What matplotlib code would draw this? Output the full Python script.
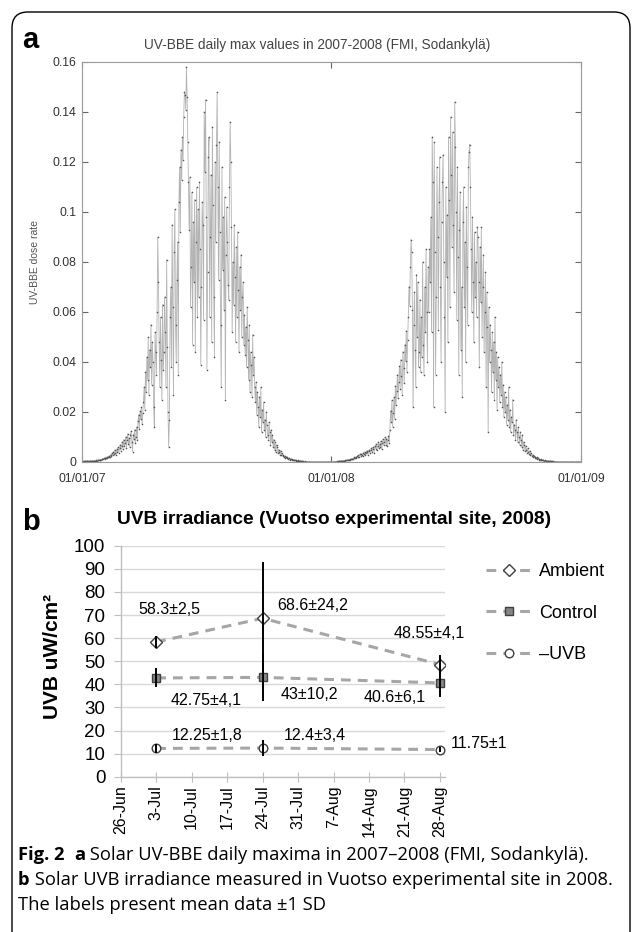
import numpy as np
import pandas as pd
import matplotlib
matplotlib.use("Agg")
import matplotlib.pyplot as plt
import matplotlib.dates as mdates
from matplotlib.patches import FancyBboxPatch

# ---- panel a: UV-BBE daily max (units of 1e-3) ----
uv_2007 = [
    # Jan
    0.3, 0.3, 0.2, 0.3, 0.3, 0.3, 0.4, 0.3, 0.3, 0.4, 0.4, 0.3, 0.4, 0.5, 0.4, 0.5,
    0.5, 0.4, 0.6, 0.5, 0.6, 0.7, 0.6, 0.8, 0.7, 0.9, 0.8, 1.0, 0.9, 1.1, 1.2,
    # Feb
    1.3, 1.5, 1.2, 1.8, 1.6, 2.0, 1.7, 2.2, 1.9, 2.5, 2.1, 3.0, 2.4, 3.5, 2.8, 4.2,
    3.1, 4.8, 3.6, 2.9, 5.2, 4.0, 6.1, 3.8, 5.5, 7.0, 4.6, 6.4,
    # Mar
    8.2, 5.1, 9.0, 6.3, 7.5, 10.1, 5.8, 8.8, 11.3, 7.2, 9.6, 6.0, 10.8, 12.4, 8.1, 4.2,
    11.0, 9.3, 13.0, 7.6, 10.2, 14.1, 8.7, 16.5, 18.9, 13.2, 20.4, 17.1, 22.0, 15.3, 19.8,
    # Apr
    24, 30, 21, 36, 28, 42, 33, 50, 27, 45, 38, 55, 31, 48, 40, 22,
    14, 52, 44, 35, 60, 90, 72, 48, 30, 58, 41, 25, 63, 37,
    # May
    44, 66, 52, 30, 81, 46, 20, 6, 17, 58, 70, 38, 95, 62, 27, 84,
    101, 55, 40, 73, 88, 35, 104, 118, 92, 125, 113, 130, 121, 138, 148,
    # Jun
    147, 141, 158, 146, 128, 112, 93, 114, 62, 78, 108, 47, 96, 72, 105, 44,
    88, 110, 58, 101, 66, 112, 85, 39, 70, 104, 95, 57, 140, 116,
    # Jul
    145, 98, 37, 76, 122, 130, 58, 90, 115, 48, 134, 103, 66, 42, 120, 88,
    127, 148, 110, 73, 128, 92, 55, 30, 118, 77, 98, 61, 106, 25, 83,
    # Aug
    102, 88, 71, 65, 110, 136, 120, 94, 52, 80, 63, 95, 74, 48, 86, 58,
    92, 69, 44, 78, 61, 83, 50, 66, 72, 47, 59, 43, 54, 38, 62,
    # Sep
    49, 33, 55, 28, 44, 39, 26, 51, 35, 42, 30, 24, 32, 19, 28, 22,
    14, 26, 18, 30, 12, 21, 16, 24, 13, 17, 10, 20, 15, 11,
    # Oct
    9, 16, 12, 7, 13, 8, 11, 6, 9, 5, 8, 4, 7, 6, 3.5, 5,
    4.2, 3, 4.5, 2.8, 3.6, 2.4, 2.9, 2.0, 2.5, 1.8, 2.2, 1.5, 1.9, 1.3, 1.6,
    # Nov
    1.2, 1.0, 1.3, 0.9, 1.1, 0.8, 1.0, 0.7, 0.9, 0.6, 0.8, 0.5, 0.7, 0.5, 0.6, 0.4,
    0.5, 0.3, 0.4, 0.3, 0.3, 0.2, 0.3, 0.2, 0.2, 0.2, 0.1, 0.2, 0.1, 0.1,
    # Dec
    0.1, 0.1, 0.05, 0.1, 0.05, 0.05, 0.1, 0.05, 0.05, 0.05, 0.05, 0.05, 0.05, 0.05, 0.05, 0.05,
    0.05, 0.05, 0.05, 0.05, 0.05, 0.05, 0.05, 0.05, 0.05, 0.05, 0.05, 0.05, 0.1, 0.05, 0.1,
]

uv_2008 = [
    # Jan
    0.1, 0.1, 0.1, 0.2, 0.1, 0.2, 0.2, 0.2, 0.3, 0.2, 0.3, 0.3, 0.4, 0.3, 0.4, 0.5,
    0.4, 0.5, 0.6, 0.5, 0.7, 0.6, 0.8, 0.7, 0.9, 0.8, 1.0, 1.1, 0.9, 1.2, 1.3,
    # Feb
    1.4, 1.2, 1.6, 1.9, 1.5, 2.1, 1.8, 2.4, 2.0, 2.7, 2.2, 3.1, 2.5, 3.4, 2.9, 2.3,
    3.8, 3.2, 4.1, 2.8, 3.5, 4.6, 3.9, 3.0, 4.4, 5.0, 3.7, 4.8, 5.5,
    # Mar
    4.2, 6.0, 5.1, 3.8, 6.6, 5.4, 7.2, 4.9, 6.3, 8.0, 5.6, 7.4, 6.1, 8.5, 5.2, 7.8,
    9.1, 6.7, 8.2, 10.0, 7.0, 9.4, 6.5, 8.8, 10.5, 7.5, 12.8, 20.5, 16.0, 24.8, 14.2,
    # Apr
    19.5, 26.0, 17.3, 30.5, 22.8, 28.4, 35.0, 25.6, 32.1, 38.4, 29.2, 41.0, 34.5, 27.0, 44.2, 37.8,
    31.5, 47.0, 40.3, 52.6, 36.0, 48.8, 58.0, 70.2, 62.5, 78.0, 89.0, 84.0, 61.0, 22.0,
    # May
    55, 68, 45, 30, 75, 50, 72, 38, 44, 65, 36, 58, 42, 80, 47, 35,
    70, 52, 85, 60, 40, 78, 60, 85, 72, 98, 52, 130, 112, 22, 128,
    # Jun
    84, 35, 66, 118, 90, 53, 104, 122, 70, 40, 96, 112, 123, 80, 58, 20,
    110, 74, 99, 48, 130, 105, 62, 138, 115, 86, 132, 95, 68, 144,
    # Jul
    126, 100, 57, 118, 82, 35, 93, 108, 45, 70, 26, 96, 110, 62, 88, 40,
    102, 78, 55, 118, 124, 127, 110, 85, 60, 98, 72, 48, 92, 66, 80,
    # Aug
    58, 94, 90, 72, 38, 86, 64, 94, 50, 70, 83, 44, 60, 76, 30, 68,
    54, 12, 62, 40, 55, 45, 28, 52, 36, 48, 25, 58, 33, 44, 21,
    # Sep
    42, 30, 38, 24, 35, 27, 40, 22, 31, 18, 28, 20, 26, 15, 23, 17,
    30, 14, 21, 12, 18, 16, 25, 11, 15, 13, 9, 17, 12, 8,
    # Oct
    14, 10, 7, 12, 9, 6, 11, 5, 8, 7, 4.5, 6.5, 5, 3.8, 5.5, 4,
    3.2, 4.6, 2.8, 3.5, 2.5, 3, 2, 2.4, 1.8, 2.1, 1.5, 1.9, 1.3, 1.6, 1.1,
    # Nov
    1.0, 0.9, 1.1, 0.8, 0.9, 0.7, 0.8, 0.6, 0.7, 0.5, 0.6, 0.5, 0.4, 0.5, 0.4, 0.3,
    0.4, 0.3, 0.3, 0.2, 0.3, 0.2, 0.2, 0.2, 0.1, 0.2, 0.1, 0.1, 0.1, 0.1,
    # Dec
    0.1, 0.05, 0.05, 0.1, 0.05, 0.05, 0.05, 0.05, 0.1, 0.05, 0.05, 0.05, 0.05, 0.05, 0.05, 0.05,
    0.05, 0.05, 0.05, 0.05, 0.1, 0.05, 0.05, 0.05, 0.05, 0.05, 0.05, 0.05, 0.05, 0.05, 0.05,
]

yticks_a = [0, 0.02, 0.04, 0.06, 0.08, 0.1, 0.12, 0.14, 0.16]
yticklabels_a = ["0", "0.02", "0.04", "0.06", "0.08", "0.1", "0.12", "0.14", "0.16"]
xticks_a = ["2007-01-01", "2008-01-01", "2009-01-01"]

# ---- panel b: UVB irradiance, Vuotso 2008 ----
dates_b = ["2008-07-03", "2008-07-24", "2008-08-28"]
ambient = [58.3, 68.6, 48.55]
ambient_sd = [2.5, 24.2, 4.1]
control = [42.75, 43, 40.6]
control_sd = [4.1, 10.2, 6.1]
minus_uvb = [12.25, 12.4, 11.75]
minus_uvb_sd = [1.8, 3.4, 1.0]

# label placement: (days from point, y value)
ambient_lab = [(-3.6, 72.2), (2.8, 74.3), (-9.2, 62.0)]
control_lab = [(2.8, 32.9), (3.5, 35.4), (-15.0, 34.2)]
minus_lab = [(3.1, 17.8), (4.1, 17.8), (2.2, 14.4)]

W, H = 635, 932
fig = plt.figure(figsize=(W / 100, H / 100), dpi=100)
plt.rcParams['font.family'] = ['Liberation Sans', 'DejaVu Sans']


def box(x0, y0, x1, y1):
    # pixel box, origin top-left -> figure fraction
    return [x0 / W, 1 - y1 / H, (x1 - x0) / W, (y1 - y0) / H]


# outer frame
frame = FancyBboxPatch((0.12, -0.5), 6.18, 9.70,
                       boxstyle="round,pad=0,rounding_size=0.16",
                       transform=fig.dpi_scale_trans, fill=False,
                       ec="black", lw=1.0)
fig.patches.append(frame)

# ---------------- panel a ----------------
t = pd.date_range("2007-01-01", periods=len(uv_2007), freq="D").append(
    pd.date_range("2008-01-01", periods=len(uv_2008), freq="D"))
v = np.array(uv_2007 + uv_2008) / 1000.0

ax1 = fig.add_axes(box(82, 62, 581, 462))
ax1.plot(t, v, color="#b3b3b3", lw=0.6, marker=".", ms=2.3,
         mfc="#555555", mec="#555555", mew=0)
ax1.set_xlim(pd.Timestamp("2007-01-01"), pd.Timestamp("2009-01-01"))
ax1.set_ylim(0, 0.16)
ax1.set_yticks(yticks_a)
ax1.set_yticklabels(yticklabels_a)
ax1.set_xticks(pd.to_datetime(xticks_a))
ax1.xaxis.set_major_formatter(mdates.DateFormatter("%m/%d/%y"))
ax1.tick_params(direction="in", top=True, right=True, length=4,
                color="#666666", labelsize=8.8, labelcolor="#333333")
ax1.tick_params(axis="x", pad=8)
ax1.tick_params(axis="y", pad=4)
for s in ax1.spines.values():
    s.set_color("#9a9a9a")
    s.set_linewidth(0.8)
ax1.set_ylabel("UV-BBE dose rate", fontsize=7.5, color="#555555")
ax1.yaxis.set_label_coords((40 - 82) / 499, 0.5)
fig.text(317 / W, 1 - 45 / H, "UV-BBE daily max values in 2007-2008 (FMI, Sodankylä)",
         fontsize=9.8, color="#444444", ha="center", va="center")
fig.text(22 / W, 1 - 48 / H, "a", fontsize=21, fontweight="bold", va="baseline")

# ---------------- panel b ----------------
db = pd.to_datetime(dates_b)
ax2 = fig.add_axes(box(120.7, 545.7, 445, 776.7))
series = [
    ("Ambient", ambient, ambient_sd, "D", "white", 5.8, ambient_lab),
    ("Control", control, control_sd, "s", "#858585", 6.0, control_lab),
    ("\u2013UVB", minus_uvb, minus_uvb_sd, "o", "white", 6.2, minus_lab),
]
for name, m, sd, mk, fc, ms, labpos in series:
    ax2.plot(db, m, ls=(0, (3.2, 2.3)), color="#a6a6a6", lw=2.2, marker=mk,
             ms=ms, mfc=fc, mec="#404040", mew=1.0, label=name, zorder=3)
    ax2.errorbar(db, m, yerr=sd, fmt="none", ecolor="black", elinewidth=1.4,
                 capsize=0, zorder=4)
    for d, mv, s, (dx, ly) in zip(db, m, sd, labpos):
        lab = f"{mv:g}\u00b1" + f"{s:g}".replace(".", ",")
        ax2.text(d + pd.Timedelta(days=dx), ly, lab, ha="left", va="center",
                 fontsize=11.5, clip_on=False)

ax2.set_ylim(0, 100)
ax2.set_yticks(np.arange(0, 101, 10))
ax2.set_xlim(pd.Timestamp("2008-06-26"), pd.Timestamp("2008-08-29"))
ax2.set_xticks(pd.date_range("2008-06-26", "2008-08-28", freq="7D"))
ax2.xaxis.set_major_formatter(mdates.DateFormatter("%-d-%b"))
ax2.yaxis.grid(True, color="#d9d9d9", lw=1.0)
ax2.set_axisbelow(True)
for side in ("top", "right"):
    ax2.spines[side].set_visible(False)
for side in ("left", "bottom"):
    ax2.spines[side].set_color("#bfbfbf")
    ax2.spines[side].set_linewidth(1.0)
ax2.tick_params(axis="y", direction="out", length=5, color="#bfbfbf",
                labelsize=13.5, pad=6)
ax2.tick_params(axis="x", direction="inout", length=7, color="#bfbfbf",
                labelsize=11.5, labelrotation=90, pad=3)
fig.text(53 / W, 1 - 656 / H, "UVB uW/cm\u00b2", fontsize=15, fontweight="bold",
         rotation=90, ha="center", va="center")
fig.text(117 / W, 1 - 519 / H, "UVB irradiance (Vuotso experimental site, 2008)",
         fontsize=13.8, fontweight="bold", ha="left", va="center")
fig.text(22 / W, 1 - 530 / H, "b", fontsize=21, fontweight="bold", va="baseline")

fig.legend(loc="center left", bbox_to_anchor=(477 / W, 1 - 613 / H),
           frameon=False, fontsize=13, handlelength=2.5, handletextpad=0.45,
           labelspacing=1.35, borderpad=0)

# ---------------- caption ----------------
cap_font = ["Liberation Sans Narrow", "Open Sans", "DejaVu Sans"]
caption = [
    [("Fig. 2", True), ("  ", False), ("a", True),
     (" Solar UV-BBE daily maxima in 2007\u20132008 (FMI, Sodankyl\u00e4).", False)],
    [("b", True), (" Solar UVB irradiance measured in Vuotso experimental site in 2008.", False)],
    [("The labels present mean data \u00b11 SD", False)],
]
cap_base = [860, 885, 910]
renderer = fig.canvas.get_renderer()


def put_runs(x_px, y_px, runs, size, keep=True):
    x = x_px
    made = []
    for s, bold in runs:
        tx = fig.text(x / W, 1 - y_px / H, s, fontsize=size, family=cap_font,
                      fontweight="bold" if bold else "normal",
                      va="baseline", ha="left")
        x += tx.get_window_extent(renderer).width
        made.append(tx)
    if not keep:
        for tx in made:
            tx.remove()
    return x - x_px


w12 = put_runs(18, 900, caption[1], 12, keep=False)
cap_size = 12 * (612 - 18) / w12
for runs, yb in zip(caption, cap_base):
    put_runs(18, yb, runs, cap_size)

fig.savefig("out.png", dpi=100)
